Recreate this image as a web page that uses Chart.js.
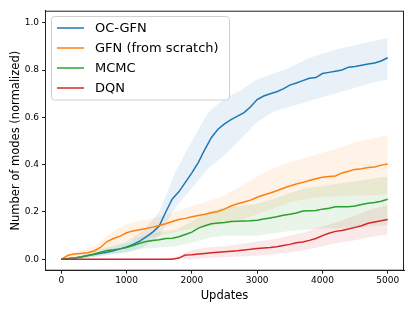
<!DOCTYPE html>
<html>
<head>
<meta charset="utf-8">
<script src="https://cdn.jsdelivr.net/npm/chart.js@4.4.1/dist/chart.umd.min.js"></script>
<style>
  html, body { margin: 0; padding: 0; background: #fff; }
  #wrap { width: 415px; height: 311px; }
</style>
</head>
<body>
<div id="wrap"><canvas id="chart" width="415" height="311"></canvas></div>
<script>
// --- data ---
const seriesNames = ['OC-GFN', 'GFN (from scratch)', 'MCMC', 'DQN'];
const seriesColors = ['#1f77b4', '#ff7f0e', '#2ca02c', '#d62728'];

const steps = [0, 100, 200, 300, 400, 500, 600, 700, 800, 900, 1000, 1100, 1200, 1300, 1400, 1500, 1600, 1700, 1800, 1900,
  2000, 2100, 2200, 2300, 2400, 2500, 2600, 2700, 2800, 2900, 3000, 3100, 3200, 3300, 3400, 3500, 3600, 3700, 3800, 3900,
  4000, 4100, 4200, 4300, 4400, 4500, 4600, 4700, 4800, 4900, 5000];

const ocGfn = [0, 0.002, 0.005, 0.01, 0.016, 0.02, 0.025, 0.03, 0.036, 0.044, 0.052, 0.063, 0.077, 0.095, 0.115, 0.14, 0.2, 0.255, 0.285, 0.325,
  0.365, 0.41, 0.465, 0.515, 0.55, 0.572, 0.59, 0.605, 0.62, 0.645, 0.675, 0.69, 0.70, 0.708, 0.72, 0.736, 0.745, 0.755, 0.765, 0.768,
  0.785, 0.79, 0.795, 0.80, 0.812, 0.815, 0.82, 0.825, 0.83, 0.838, 0.852];
const gfnScratch = [0, 0.017, 0.022, 0.025, 0.028, 0.035, 0.05, 0.075, 0.088, 0.098, 0.112, 0.12, 0.125, 0.13, 0.136, 0.143, 0.15, 0.16, 0.168, 0.173,
  0.18, 0.185, 0.19, 0.197, 0.202, 0.212, 0.225, 0.235, 0.242, 0.25, 0.262, 0.272, 0.28, 0.29, 0.30, 0.31, 0.318, 0.325, 0.333, 0.34,
  0.347, 0.35, 0.352, 0.365, 0.372, 0.38, 0.383, 0.388, 0.39, 0.398, 0.403];
const mcmc = [0, 0.003, 0.006, 0.01, 0.015, 0.022, 0.03, 0.037, 0.04, 0.044, 0.05, 0.058, 0.068, 0.075, 0.079, 0.083, 0.088, 0.089, 0.095, 0.105,
  0.115, 0.132, 0.142, 0.15, 0.153, 0.156, 0.16, 0.161, 0.162, 0.163, 0.165, 0.17, 0.175, 0.18, 0.186, 0.19, 0.196, 0.204, 0.205, 0.206,
  0.212, 0.216, 0.222, 0.222, 0.222, 0.225, 0.232, 0.237, 0.24, 0.245, 0.254];
const dqn = [0, 0, 0, 0, 0, 0, 0, 0, 0, 0, 0, 0, 0, 0, 0, 0, 0, 0, 0.005, 0.018,
  0.019, 0.022, 0.025, 0.028, 0.03, 0.032, 0.034, 0.036, 0.039, 0.042, 0.046, 0.048, 0.05, 0.053, 0.058, 0.063, 0.07, 0.073, 0.08, 0.088,
  0.1, 0.11, 0.118, 0.122, 0.128, 0.135, 0.142, 0.152, 0.158, 0.163, 0.168];

// shaded spread, sampled more coarsely
const bandSteps = [0, 250, 500, 750, 1000, 1250, 1500, 1750, 2000, 2250, 2500, 2750, 3000, 3250, 3500, 3750, 4000, 4250, 4500, 4750, 5000];
const ocGfnUpper = [0, 0.008, 0.025, 0.045, 0.075, 0.12, 0.2, 0.37, 0.5, 0.62, 0.68, 0.715, 0.76, 0.785, 0.81, 0.845, 0.87, 0.89, 0.905, 0.92, 0.935];
const ocGfnLower = [0, 0.002, 0.01, 0.02, 0.03, 0.05, 0.1, 0.22, 0.3, 0.385, 0.44, 0.51, 0.58, 0.625, 0.645, 0.665, 0.685, 0.705, 0.725, 0.745, 0.76];
const gfnUpper = [0, 0.035, 0.055, 0.11, 0.15, 0.165, 0.18, 0.2, 0.225, 0.245, 0.27, 0.31, 0.35, 0.385, 0.41, 0.43, 0.45, 0.47, 0.495, 0.51, 0.525];
const gfnLower = [0, 0.01, 0.018, 0.045, 0.075, 0.09, 0.1, 0.115, 0.13, 0.14, 0.15, 0.165, 0.19, 0.215, 0.24, 0.255, 0.265, 0.265, 0.27, 0.27, 0.275];
const mcmcUpper = [0, 0.012, 0.035, 0.055, 0.07, 0.1, 0.115, 0.125, 0.16, 0.2, 0.22, 0.225, 0.235, 0.255, 0.28, 0.3, 0.31, 0.32, 0.33, 0.34, 0.35];
const mcmcLower = [0, 0, 0.01, 0.02, 0.03, 0.045, 0.05, 0.055, 0.07, 0.09, 0.1, 0.1, 0.1, 0.11, 0.12, 0.125, 0.13, 0.13, 0.13, 0.14, 0.145];
const dqnUpper = [0, 0, 0, 0, 0, 0, 0, 0.01, 0.04, 0.05, 0.055, 0.065, 0.075, 0.085, 0.1, 0.115, 0.14, 0.16, 0.185, 0.21, 0.23];
const dqnLower = [0, 0, 0, 0, 0, 0, 0, 0, 0, 0.005, 0.01, 0.012, 0.015, 0.02, 0.03, 0.04, 0.055, 0.07, 0.08, 0.095, 0.105];

const xTicks = [0, 1000, 2000, 3000, 4000, 5000];
const yTicks = [0, 0.2, 0.4, 0.6, 0.8, 1.0];

// --- helpers ---
const FONT = '"DejaVu Sans", sans-serif';
const toPoints = (xs, ys) => xs.map((x, i) => ({ x: x, y: ys[i] }));
const rgba = (hex, a) => {
  const n = parseInt(hex.slice(1), 16);
  return `rgba(${(n >> 16) & 255}, ${(n >> 8) & 255}, ${n & 255}, ${a})`;
};

const means = [ocGfn, gfnScratch, mcmc, dqn];
const uppers = [ocGfnUpper, gfnUpper, mcmcUpper, dqnUpper];
const lowers = [ocGfnLower, gfnLower, mcmcLower, dqnLower];

const datasets = [];
// bands first (upper fills down to the following lower)
seriesNames.forEach((name, i) => {
  datasets.push({
    label: name + ' upper',
    data: toPoints(bandSteps, uppers[i]),
    borderWidth: 0,
    pointRadius: 0,
    backgroundColor: rgba(seriesColors[i], 0.1),
    fill: '+1',
    order: 20 - i
  });
  datasets.push({
    label: name + ' lower',
    data: toPoints(bandSteps, lowers[i]),
    borderWidth: 0,
    pointRadius: 0,
    fill: false,
    order: 20 - i
  });
});
// mean lines, later series drawn on top
seriesNames.forEach((name, i) => {
  datasets.push({
    label: name,
    data: toPoints(steps, means[i]),
    borderColor: seriesColors[i],
    borderWidth: 1.5,
    pointRadius: 0,
    fill: false,
    tension: 0,
    order: 10 - i
  });
});

// box around the plot area + legend in the upper left
const framePlugin = {
  id: 'frame',
  afterDraw(chart) {
    const { ctx, chartArea: a } = chart;
    ctx.save();
    ctx.strokeStyle = '#222';
    ctx.lineWidth = 1;
    ctx.strokeRect(a.left + 0.5, a.top + 0.5, a.right - a.left - 1, a.bottom - a.top - 1);

    // legend
    const bx = 51.5, by = 16.5, bw = 178, bh = 83.5, r = 3;
    ctx.beginPath();
    ctx.roundRect(bx, by, bw, bh, r);
    ctx.fillStyle = 'rgba(255,255,255,0.8)';
    ctx.fill();
    ctx.strokeStyle = '#d0d0d0';
    ctx.lineWidth = 1;
    ctx.stroke();

    ctx.font = '13px ' + FONT;
    ctx.textBaseline = 'middle';
    ctx.textAlign = 'left';
    seriesNames.forEach((name, i) => {
      const y = 28 + i * 20;
      ctx.beginPath();
      ctx.moveTo(57, y);
      ctx.lineTo(84, y);
      ctx.strokeStyle = seriesColors[i];
      ctx.lineWidth = 1.5;
      ctx.stroke();
      ctx.fillStyle = '#000';
      ctx.fillText(name, 95, y + 0.5);
    });
    ctx.restore();
  }
};

const ctx = document.getElementById('chart').getContext('2d');
new Chart(ctx, {
  type: 'line',
  data: { datasets: datasets },
  options: {
    responsive: false,
    animation: false,
    events: [],
    layout: { padding: { top: 10.7, right: 11, bottom: 0, left: 0 } },
    plugins: {
      legend: { display: false },
      tooltip: { enabled: false },
      filler: { propagate: false }
    },
    scales: {
      x: {
        type: 'linear',
        min: -250,
        max: 5250,
        afterBuildTicks: (scale) => { scale.ticks = xTicks.map(v => ({ value: v })); },
        afterFit: (scale) => { scale.height = 40.3; },
        grid: { drawOnChartArea: false, drawTicks: true, tickLength: 3, color: '#222' },
        border: { display: true, color: '#222' },
        ticks: { color: '#000', padding: 2, font: { family: FONT, size: 9 }, maxRotation: 0, callback: (v) => String(v) },
        title: { display: true, text: 'Updates', color: '#000', font: { family: FONT, size: 11.5 }, padding: { top: 0, bottom: 8 } }
      },
      y: {
        type: 'linear',
        min: -0.0482,
        max: 1.0507,
        afterBuildTicks: (scale) => { scale.ticks = yTicks.map(v => ({ value: v })); },
        afterFit: (scale) => { scale.width = 45; },
        grid: { drawOnChartArea: false, drawTicks: true, tickLength: 3, color: '#222' },
        border: { display: true, color: '#222' },
        ticks: { color: '#000', padding: 3, font: { family: FONT, size: 9 }, callback: (v) => v.toFixed(1) },
        title: { display: true, text: 'Number of modes (normalized)', color: '#000', font: { family: FONT, size: 11.5 }, padding: { top: 9, bottom: 0 } }
      }
    }
  },
  plugins: [framePlugin]
});
</script>
</body>
</html>
